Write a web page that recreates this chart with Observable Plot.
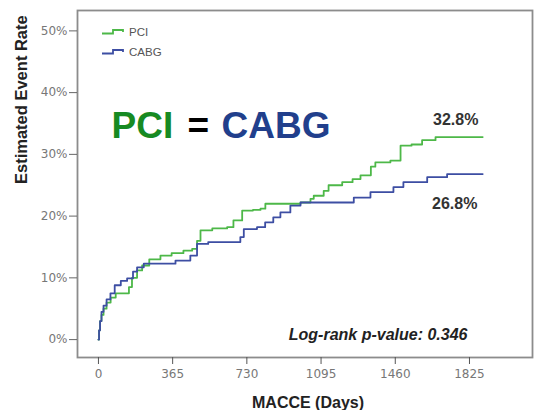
<!DOCTYPE html>
<html><head><meta charset="utf-8">
<script src="https://cdn.jsdelivr.net/npm/d3@7"></script>
<script src="https://cdn.jsdelivr.net/npm/@observablehq/plot@0.6"></script>
<style>
body{margin:0;background:#fff;font-family:"Liberation Sans",Arial,sans-serif}
#wrap{position:relative;width:535px;height:410px;overflow:hidden}
#legend{position:absolute;left:0;top:0}
</style>
</head><body><div id="wrap"></div>
<script>
const series = ["PCI", "CABG"];
const colors = ["#4db848", "#3d4ea3"];
const pciDays = [0, 3, 8, 15, 25, 40, 60, 85, 150, 165, 190, 215, 250, 305, 360, 418, 461, 485, 502, 560, 633, 664, 707, 760, 797, 821, 944, 994, 1043, 1059, 1108, 1132, 1199, 1250, 1289, 1340, 1362, 1436, 1486, 1540, 1592, 1658, 1890];
const pciRate = [0, 1.5, 3, 4, 5, 6, 6.8, 7.5, 8.5, 10, 11.2, 12, 13, 13.6, 14, 14.4, 14.7, 16, 17.7, 18, 18.2, 19.3, 20.9, 21, 21.2, 22, 22, 22.2, 22.8, 23.3, 24.1, 25, 25.5, 26, 26.6, 28, 28.7, 29, 31.4, 31.6, 32.3, 32.8, 32.8];
const cabgDays = [0, 3, 8, 15, 25, 40, 59, 80, 110, 141, 170, 190, 223, 379, 452, 485, 540, 698, 715, 780, 820, 860, 895, 944, 994, 1256, 1338, 1451, 1500, 1617, 1715, 1890];
const cabgRate = [0, 1.5, 3, 4.5, 5.5, 6.5, 7.5, 8.8, 9.5, 9.9, 11, 11.7, 12.3, 12.8, 13.6, 15.5, 15.8, 16.6, 17.9, 18.2, 19, 19.8, 20.6, 21.7, 22.2, 23, 23.9, 24.7, 25.5, 26.3, 26.8, 26.8];
const xTicks = [0, 365, 730, 1095, 1460, 1825];
const yTicks = [0, 10, 20, 30, 40, 50];
const endLabels = ["32.8%", "26.8%"];

const data = [
  ...pciDays.map((d, i) => ({series: "PCI", day: d, rate: pciRate[i]})),
  ...cabgDays.map((d, i) => ({series: "CABG", day: d, rate: cabgRate[i]}))
];
const ends = [
  {series: "PCI", day: pciDays[pciDays.length - 1], rate: pciRate[pciRate.length - 1], label: endLabels[0]},
  {series: "CABG", day: cabgDays[cabgDays.length - 1], rate: cabgRate[cabgRate.length - 1], label: endLabels[1]}
];
const tickFont = "DejaVu Sans, Verdana, sans-serif";

const plot = Plot.plot({
  width: 535, height: 410,
  marginLeft: 77, marginRight: 3, marginTop: 10, marginBottom: 53,
  x: {domain: [-103, 2135]},
  y: {domain: [-2.9, 53.3]},
  color: {domain: series, range: colors},
  style: {fontFamily: "Liberation Sans, Arial, sans-serif", background: "white", overflow: "hidden"},
  marks: [
    Plot.frame({stroke: "#8c8c8c", strokeWidth: 1.8}),
    Plot.axisY({ticks: yTicks, tickFormat: d => d + "%", tickSize: 8, tickPadding: 2, fontSize: 12, fontFamily: tickFont, color: "#777", stroke: "#666", label: null}),
    Plot.axisX({ticks: xTicks, tickFormat: d => String(d), tickSize: 7, tickPadding: 5, fontSize: 12, fontFamily: tickFont, color: "#777", stroke: "#555", label: null}),
    Plot.line(data, {x: "day", y: "rate", z: "series", stroke: "series", curve: "step-after", strokeWidth: 1.8}),
    Plot.text(ends.slice(0, 1), {x: "day", y: "rate", text: "label", lineAnchor: "bottom", dx: -27, dy: -12, fontWeight: "bold", fontSize: 16, fill: "#333"}),
    Plot.text(ends.slice(1), {x: "day", y: "rate", text: "label", lineAnchor: "bottom", dx: -28, dy: 35, fontWeight: "bold", fontSize: 16, fill: "#333"}),
    Plot.text(["Estimated Event Rate"], {frameAnchor: "left", dx: -56, rotate: -90, fontWeight: "bold", fontSize: 16.5, fill: "#222"}),
    Plot.text(["MACCE (Days)"], {frameAnchor: "bottom", lineAnchor: "bottom", dx: 3, dy: 50, fontWeight: "bold", fontSize: 16, fill: "#222"}),
    Plot.text(["Log-rank p-value: 0.346"], {frameAnchor: "bottom-right", textAnchor: "end", lineAnchor: "bottom", dx: -65, dy: -18, fontWeight: "bold", fontStyle: "italic", fontSize: 16, fill: "#222"}),
    Plot.text(["PCI"], {frameAnchor: "top-left", textAnchor: "start", lineAnchor: "bottom", dx: 34, dy: 127, fontWeight: "bold", fontSize: 37, fill: "#178a22"}),
    Plot.text(["="], {frameAnchor: "top-left", textAnchor: "start", lineAnchor: "bottom", dx: 110, dy: 127, fontWeight: "bold", fontSize: 37, fill: "#000"}),
    Plot.text(["CABG"], {frameAnchor: "top-left", textAnchor: "start", lineAnchor: "bottom", dx: 144, dy: 127, fontWeight: "bold", fontSize: 37, fill: "#213f8c"})
  ]
});
const wrap = document.getElementById("wrap");
wrap.appendChild(plot);

// legend
const ns = "http://www.w3.org/2000/svg";
const lg = document.createElementNS(ns, "svg");
lg.setAttribute("id", "legend");
lg.setAttribute("width", 535);
lg.setAttribute("height", 410);
series.forEach((s, i) => {
  const y = 32 + i * 20;
  const p = document.createElementNS(ns, "path");
  p.setAttribute("d", `M102,${y + 1.5}H113V${y - 2}H123V${y}`);
  p.setAttribute("fill", "none");
  p.setAttribute("stroke", colors[i]);
  p.setAttribute("stroke-width", 1.8);
  lg.appendChild(p);
  const t = document.createElementNS(ns, "text");
  t.setAttribute("x", 129);
  t.setAttribute("y", y + 4);
  t.setAttribute("font-size", 11.5);
  t.setAttribute("font-family", "Liberation Sans, Arial, sans-serif");
  t.setAttribute("fill", "#555");
  t.textContent = s;
  lg.appendChild(t);
});
wrap.appendChild(lg);
</script>
</body></html>
